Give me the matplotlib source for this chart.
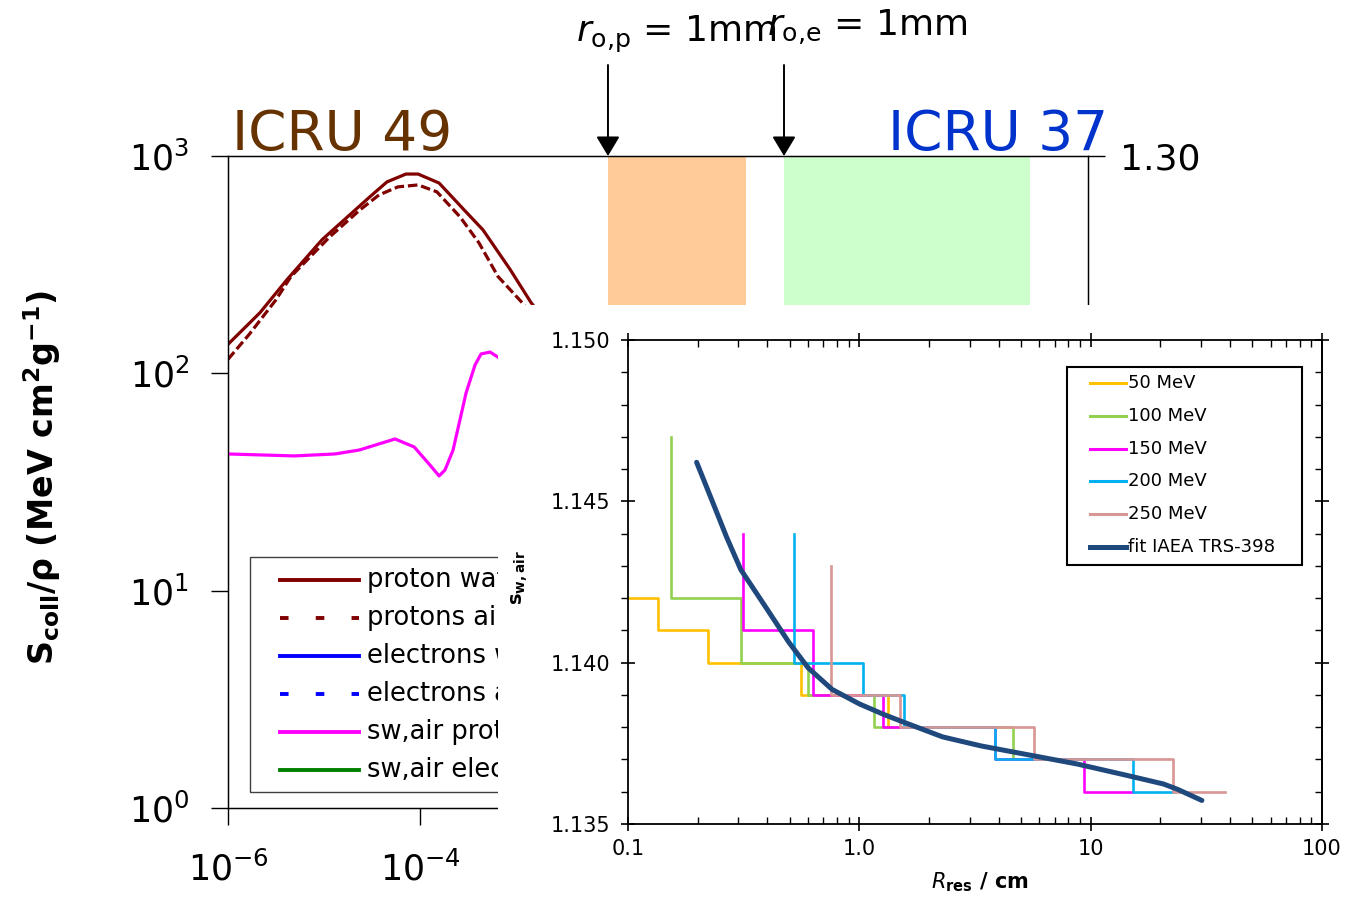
import numpy as np
import matplotlib
matplotlib.use('Agg')
import matplotlib.pyplot as plt
from matplotlib.lines import Line2D
from matplotlib.patches import Rectangle
from matplotlib.ticker import FixedLocator, LogFormatterMathtext, FormatStrFormatter, MultipleLocator, NullFormatter, LogLocator

plt.rcParams['font.family'] = ['DejaVu Sans']
plt.rcParams['mathtext.default'] = 'regular'

# ---------------- data: background panel (stopping powers) ----------------
E_pw = [1.0e-6, 2.15e-6, 4.12e-6, 9.55e-6, 1.96e-5, 3.16e-5, 4.53e-5, 7.14e-5,
        9.55e-5, 1.58e-4, 2.88e-4, 4.53e-4, 8.71e-4, 1.43e-3, 2.0e-3]
S_pw = [136, 190, 270, 412, 548, 662, 760, 826, 826, 751, 565, 457, 300, 212, 175]

E_pa = [1.0e-6, 1.66e-6, 3.16e-6, 4.53e-6, 1.15e-5, 2.37e-5, 3.74e-5, 5.89e-5,
        9.55e-5, 1.50e-4, 2.61e-4, 4.12e-4, 6.49e-4, 1.13e-3, 2.0e-3]
S_pa = [116, 151, 218, 279, 425, 565, 662, 721, 736, 684, 525, 398, 279, 214, 160]

E_sw = [1.0e-6, 4.9e-6, 1.30e-5, 2.32e-5, 5.50e-5, 8.71e-5, 1.27e-4, 1.58e-4,
        1.82e-4, 2.21e-4, 3.02e-4, 3.74e-4, 4.32e-4, 5.37e-4, 6.46e-4, 8.0e-4]
SW_p = [1.1629, 1.1620, 1.1629, 1.1647, 1.1698, 1.1661, 1.1578, 1.1528,
        1.1555, 1.1647, 1.1910, 1.2038, 1.2089, 1.2098, 1.2075, 1.2050]

bg_labels = ['proton water', 'protons air', 'electrons water', 'electrons air',
             'sw,air protons', 'sw,air electrons']
bg_colors = ['#800000', '#800000', '#0000FF', '#0000FF', '#FF00FF', '#008000']
bg_styles = ['-', (0, (2.2, 7)), '-', (0, (2.2, 7)), '-', '-']

span_p = [9.08e-3, 0.249]
span_e = [0.619, 226.0]

# ---------------- data: inset (s_w,air vs residual range) ----------------
r50 = [0.1, 0.1345, 0.222, 0.559, 1.334, 1.40]
s50 = [1.142, 1.141, 1.140, 1.139, 1.138, 1.138]
r100 = [0.1537, 0.1537, 0.3077, 0.600, 1.162, 4.60, 5.5]
s100 = [1.147, 1.142, 1.140, 1.139, 1.138, 1.137, 1.137]
r150 = [0.315, 0.315, 0.630, 1.26, 3.87, 9.38, 15.3]
s150 = [1.144, 1.141, 1.139, 1.138, 1.137, 1.136, 1.136]
r200 = [0.520, 0.520, 1.04, 1.562, 3.87, 15.3, 22.7]
s200 = [1.144, 1.140, 1.139, 1.138, 1.137, 1.136, 1.136]
r250 = [0.751, 0.751, 1.503, 5.68, 22.7, 37.9]
s250 = [1.143, 1.139, 1.138, 1.137, 1.136, 1.136]

r_fit = [0.198, 0.2309, 0.2665, 0.3075, 0.3906, 0.4960, 0.6006, 0.7628, 1.0014,
         1.290, 1.562, 2.290, 3.357, 5.414, 8.732, 14.08, 20.64, 23.83, 30.25]
s_fit = [1.14621, 1.14502, 1.14390, 1.14288, 1.14176, 1.14063, 1.13984, 1.13917,
         1.13872, 1.13838, 1.13815, 1.13770, 1.13742, 1.13714, 1.13686, 1.13652,
         1.13624, 1.13607, 1.13573]

inset_series = [('50 MeV', r50, s50, '#FFC000'),
                ('100 MeV', r100, s100, '#92D050'),
                ('150 MeV', r150, s150, '#FF00FF'),
                ('200 MeV', r200, s200, '#00B0F0'),
                ('250 MeV', r250, s250, '#D99694')]
fit_label = 'fit IAEA TRS-398'
fit_color = '#1F497D'

x_ticks_in = [0.1, 1.0, 10, 100]
x_ticklabels_in = ['0.1', '1.0', '10', '100']

# ---------------- figure ----------------
W, H = 1350, 899
fig = plt.figure(figsize=(13.5, 8.99), dpi=100)

def fx(x):
    return x / W

def fy(y):
    return 1 - y / H

# background axes
ax = fig.add_axes([fx(228), fy(808), fx(1088) - fx(228), fy(156) - fy(808)])
ax.set_zorder(0)
ax.set_xscale('log')
ax.set_yscale('log')
ax.set_xlim(1e-6, 10 ** ((1088 - 228) / 96 - 6))
ax.set_ylim(1, 1000)
ax.axvspan(span_p[0], span_p[1], color='#FFCC99', zorder=0.5, lw=0)
ax.axvspan(span_e[0], span_e[1], color='#CCFFCC', zorder=0.5, lw=0)
ax.plot(E_pw, S_pw, color=bg_colors[0], lw=2.3, ls=bg_styles[0])
ax.plot(E_pa, S_pa, color=bg_colors[1], lw=2.3, ls=(0, (3, 1.2)))
ax.xaxis.set_major_locator(FixedLocator([1e-6, 1e-4, 1e-2, 1, 1e2]))
ax.xaxis.set_minor_locator(FixedLocator([]))
ax.yaxis.set_major_locator(FixedLocator([1, 10, 100, 1000]))
ax.yaxis.set_minor_locator(FixedLocator([]))
ax.xaxis.set_major_formatter(LogFormatterMathtext())
ax.yaxis.set_major_formatter(LogFormatterMathtext())
ax.tick_params(direction='out', length=12, width=1, labelsize=25)
ax.tick_params(axis='x', pad=19)
ax.tick_params(axis='y', pad=16)
for s in ax.spines.values():
    s.set_linewidth(1.0)

ax_r = ax.twinx()
ax_r.set_ylim(1.0, 1.30)
ax_r.set_yticks([1.0, 1.1, 1.2, 1.3])
ax_r.yaxis.set_major_formatter(FormatStrFormatter('%.2f'))
ax_r.tick_params(direction='out', length=12, width=1, labelsize=26, pad=11)
ax_r.plot(E_sw, SW_p, color=bg_colors[4], lw=2.3)

# background legend (manual, partly hidden behind the inset)
fig.add_artist(Rectangle((fx(250), fy(792)), fx(620) - fx(250), fy(557) - fy(792),
                         transform=fig.transFigure, facecolor='white',
                         edgecolor='#404040', lw=1.0, zorder=0.5))
for i, (lab, col, ls) in enumerate(zip(bg_labels, bg_colors, bg_styles)):
    yy = 580 + i * 38
    fig.add_artist(Line2D([fx(280), fx(359)], [fy(yy), fy(yy)], transform=fig.transFigure,
                          color=col, ls=ls, lw=2.8, zorder=0.6))
    fig.text(fx(367), fy(yy), lab, fontsize=18.5, va='center', ha='left', zorder=0.6)

# white backdrop of the inset picture
fig.add_artist(Rectangle((fx(498), 0), 1 - fx(498), fy(305), transform=fig.transFigure,
                         facecolor='white', edgecolor='none', zorder=1))

# arrows and annotations
for xa in [span_p[0], span_e[0]]:
    ax.annotate('', xy=(xa, 1.0), xycoords=('data', 'axes fraction'),
                xytext=(0, 65.5), textcoords='offset points',
                arrowprops=dict(arrowstyle='-|>,head_length=0.6,head_width=0.36',
                                mutation_scale=20, color='black', lw=1.4,
                                shrinkA=0, shrinkB=0),
                annotation_clip=False)

fig.text(fx(576), fy(42), r'$\mathit{r}_{\mathrm{o}{,}\mathrm{p}}$ = 1mm', fontsize=26, va='baseline', ha='left', zorder=3)
fig.text(fx(767), fy(36), r'$\mathit{r}_{\mathrm{o}{,}\mathrm{e}}$ = 1mm', fontsize=26, va='baseline', ha='left', zorder=3)
fig.text(fx(232), fy(150), 'ICRU 49', fontsize=39.5, color='#663300', va='baseline', ha='left')
fig.text(fx(888), fy(150), 'ICRU 37', fontsize=39.5, color='#0033CC', va='baseline', ha='left')

fig.text(fx(42), fy(478), r'$\mathbf{S}_{\mathbf{coll}}\mathbf{/\rho}$ (MeV cm$^{\mathbf{2}}$g$^{\mathbf{-1}}$)',
         rotation=90, fontsize=24, fontweight='bold', ha='center', va='center')

# ---------------- inset ----------------
axi = fig.add_axes([fx(628), fy(824), fx(1322) - fx(628), fy(340) - fy(824)])
axi.set_zorder(2)
axi.set_facecolor('white')
axi.set_xscale('log')
axi.set_xlim(0.1, 100)
axi.set_ylim(1.135, 1.150)
for lab, rr, ss, col in inset_series:
    axi.plot(rr, ss, drawstyle='steps-post', color=col, lw=1.9)
axi.plot(r_fit, s_fit, color=fit_color, lw=3.6, solid_capstyle='round',
         solid_joinstyle='round', zorder=5)

axi.xaxis.set_major_locator(FixedLocator(x_ticks_in))
axi.set_xticklabels(x_ticklabels_in)
axi.xaxis.set_minor_locator(LogLocator(base=10, subs=np.arange(2, 10)))
axi.xaxis.set_minor_formatter(NullFormatter())
axi.yaxis.set_major_locator(MultipleLocator(0.005))
axi.yaxis.set_minor_locator(MultipleLocator(0.001))
axi.yaxis.set_major_formatter(FormatStrFormatter('%.3f'))
axi.tick_params(axis='x', which='major', direction='inout', length=10, width=1.2,
                top=True, labelsize=15, pad=6)
axi.tick_params(axis='x', which='minor', direction='in', length=5, width=1.0, top=True)
axi.tick_params(axis='y', which='major', direction='inout', length=10, width=1.2,
                right=False, labelsize=15, pad=8)
axi.tick_params(axis='y', which='minor', direction='out', length=5, width=1.0, right=False)
sec = axi.secondary_yaxis('right')
sec.yaxis.set_major_locator(MultipleLocator(0.005))
sec.yaxis.set_minor_locator(MultipleLocator(0.001))
sec.tick_params(which='major', direction='inout', length=10, width=1.2, labelright=False)
sec.tick_params(which='minor', direction='in', length=5, width=1.0)
sec.spines['right'].set_linewidth(1.3)
for s in axi.spines.values():
    s.set_linewidth(1.3)

handles = [Line2D([], [], color=c, lw=2.2) for _, _, _, c in inset_series]
handles.append(Line2D([], [], color=fit_color, lw=3.6))
labels = [l for l, _, _, _ in inset_series] + [fit_label]
fig.add_artist(Rectangle((fx(1067), fy(565)), fx(1302) - fx(1067), fy(367) - fy(565),
                         transform=fig.transFigure, facecolor='white',
                         edgecolor='black', lw=1.5, zorder=3))
for i, (h, lab) in enumerate(zip(handles, labels)):
    yy = 383 + i * 32.8
    fig.add_artist(Line2D([fx(1090), fx(1126)], [fy(yy), fy(yy)], transform=fig.transFigure,
                          color=h.get_color(), lw=h.get_linewidth(), zorder=3.1))
    fig.text(fx(1128), fy(yy), lab, fontsize=13, va='center', ha='left', zorder=3.1)

fig.text(fx(980), fy(882), r'$\mathit{R}_{\mathbf{res}}$ / cm', fontsize=15,
         fontweight='bold', ha='center', va='center', zorder=3)
fig.text(fx(520), fy(578), r'$\mathbf{s}_{\mathbf{w,air}}$', fontsize=14,
         rotation=90, ha='center', va='center', zorder=3)

fig.savefig('out.png', dpi=100)
